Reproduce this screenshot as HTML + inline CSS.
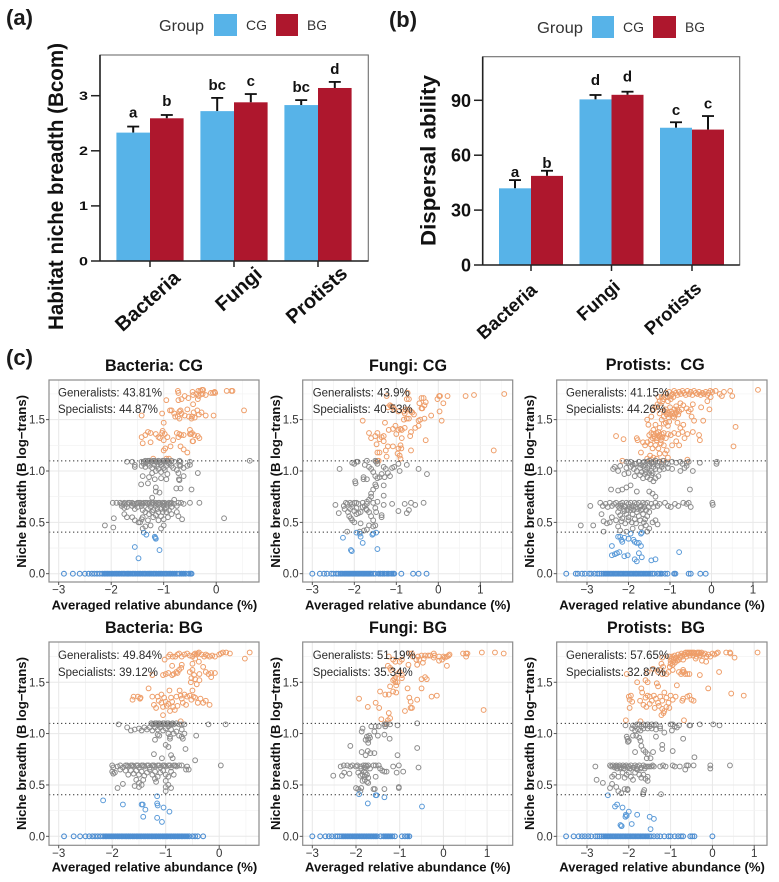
<!DOCTYPE html>
<html lang="en">
<head>
<meta charset="utf-8">
<title>Niche breadth and dispersal ability</title>
<style>
html,body{margin:0;padding:0;background:#fff;}
svg{display:block;}
text{font-family:"Liberation Sans",sans-serif;}
.pl{font-size:22px;font-weight:bold;fill:#1a1a1a;}
.lg{font-size:16px;fill:#333;}
.lg2{font-size:14px;fill:#333;}
.ttl{font-size:16.2px;font-weight:bold;fill:#111;}
.note{font-size:11.5px;fill:#2b2b2b;}
.axt{font-size:13px;font-weight:bold;fill:#111;}
</style>
</head>
<body>
<svg id="figure" xmlns="http://www.w3.org/2000/svg" width="779" height="882" viewBox="0 0 779 882">
  <rect x="0" y="0" width="779" height="882" fill="#fff"/>

  <text class="pl" x="6" y="25" textLength="27" lengthAdjust="spacingAndGlyphs">(a)</text>
  <text class="pl" x="389" y="27" textLength="28" lengthAdjust="spacingAndGlyphs">(b)</text>
  <text class="pl" x="6" y="365" textLength="27" lengthAdjust="spacingAndGlyphs">(c)</text>

  <g>
    <text class="lg" x="159" y="31" textLength="45" lengthAdjust="spacingAndGlyphs">Group</text>
    <rect x="214" y="14" width="23" height="22" fill="#57b3e8"/>
    <text class="lg2" x="246" y="30" textLength="21" lengthAdjust="spacingAndGlyphs">CG</text>
    <rect x="276" y="14" width="22" height="22" fill="#ae172d"/>
    <text class="lg2" x="307" y="30" textLength="20" lengthAdjust="spacingAndGlyphs">BG</text>
  </g>
  <g>
    <text class="lg" x="537" y="33" textLength="46" lengthAdjust="spacingAndGlyphs">Group</text>
    <rect x="592" y="16" width="22" height="22" fill="#57b3e8"/>
    <text class="lg2" x="623" y="32" textLength="21" lengthAdjust="spacingAndGlyphs">CG</text>
    <rect x="653" y="16" width="23" height="22" fill="#ae172d"/>
    <text class="lg2" x="685" y="32" textLength="20" lengthAdjust="spacingAndGlyphs">BG</text>
  </g>

  <text transform="translate(63,330) rotate(-90)" font-size="21" font-weight="bold" fill="#111" textLength="287" lengthAdjust="spacingAndGlyphs">Habitat niche breadth (Bcom)</text>
  <text transform="translate(435.5,246) rotate(-90)" font-size="21" font-weight="bold" fill="#111" textLength="171" lengthAdjust="spacingAndGlyphs">Dispersal ability</text>
  <g id="chart-a"></g>
  <g id="chart-b"></g>

  <g id="panel-0"></g>
  <g id="panel-1"></g>
  <g id="panel-2"></g>
  <g id="panel-3"></g>
  <g id="panel-4"></g>
  <g id="panel-5"></g>

  <text class="ttl" x="105" y="371" textLength="98" lengthAdjust="spacingAndGlyphs">Bacteria: CG</text>
  <text class="ttl" x="369" y="371" textLength="78" lengthAdjust="spacingAndGlyphs">Fungi: CG</text>
  <text class="ttl" x="605.7" y="370" textLength="99" lengthAdjust="spacingAndGlyphs" xml:space="preserve">Protists:  CG</text>
  <text class="ttl" x="105" y="633" textLength="98" lengthAdjust="spacingAndGlyphs">Bacteria: BG</text>
  <text class="ttl" x="369" y="633" textLength="78" lengthAdjust="spacingAndGlyphs">Fungi: BG</text>
  <text class="ttl" x="607" y="633" textLength="98" lengthAdjust="spacingAndGlyphs" xml:space="preserve">Protists:  BG</text>

  <text class="axt" x="51.7" y="609.3" textLength="205.6" lengthAdjust="spacingAndGlyphs">Averaged relative abundance (%)</text>
  <text class="axt" x="305" y="609.3" textLength="205.6" lengthAdjust="spacingAndGlyphs">Averaged relative abundance (%)</text>
  <text class="axt" x="559.3" y="609.3" textLength="205.6" lengthAdjust="spacingAndGlyphs">Averaged relative abundance (%)</text>
  <text class="axt" x="51.7" y="871.3" textLength="205.6" lengthAdjust="spacingAndGlyphs">Averaged relative abundance (%)</text>
  <text class="axt" x="305" y="871.3" textLength="205.6" lengthAdjust="spacingAndGlyphs">Averaged relative abundance (%)</text>
  <text class="axt" x="559.3" y="871.3" textLength="205.6" lengthAdjust="spacingAndGlyphs">Averaged relative abundance (%)</text>

  <text class="axt" transform="translate(26,567.7) rotate(-90)" textLength="172.7" lengthAdjust="spacingAndGlyphs">Niche breadth (B log−trans)</text>
  <text class="axt" transform="translate(280,567.7) rotate(-90)" textLength="172.7" lengthAdjust="spacingAndGlyphs">Niche breadth (B log−trans)</text>
  <text class="axt" transform="translate(534,567.7) rotate(-90)" textLength="172.7" lengthAdjust="spacingAndGlyphs">Niche breadth (B log−trans)</text>
  <text class="axt" transform="translate(26,830) rotate(-90)" textLength="173" lengthAdjust="spacingAndGlyphs">Niche breadth (B log−trans)</text>
  <text class="axt" transform="translate(280,830) rotate(-90)" textLength="173" lengthAdjust="spacingAndGlyphs">Niche breadth (B log−trans)</text>
  <text class="axt" transform="translate(534,830) rotate(-90)" textLength="173" lengthAdjust="spacingAndGlyphs">Niche breadth (B log−trans)</text>

  <g id="annotations">
  <text class="note" x="58" y="396.7" textLength="104" lengthAdjust="spacingAndGlyphs">Generalists: 43.81%</text>
  <text class="note" x="58" y="413" textLength="100" lengthAdjust="spacingAndGlyphs">Specialists: 44.87%</text>
  <text class="note" x="312.7" y="396.7" textLength="97" lengthAdjust="spacingAndGlyphs">Generalists: 43.9%</text>
  <text class="note" x="312.7" y="413" textLength="100" lengthAdjust="spacingAndGlyphs">Specialists: 40.53%</text>
  <text class="note" x="566" y="396.7" textLength="103" lengthAdjust="spacingAndGlyphs">Generalists: 41.15%</text>
  <text class="note" x="566" y="413" textLength="100" lengthAdjust="spacingAndGlyphs">Specialists: 44.26%</text>
  <text class="note" x="58" y="659" textLength="104" lengthAdjust="spacingAndGlyphs">Generalists: 49.84%</text>
  <text class="note" x="58" y="676" textLength="100" lengthAdjust="spacingAndGlyphs">Specialists: 39.12%</text>
  <text class="note" x="312.7" y="659" textLength="103" lengthAdjust="spacingAndGlyphs">Generalists: 51.19%</text>
  <text class="note" x="312.7" y="676" textLength="100" lengthAdjust="spacingAndGlyphs">Specialists: 35.34%</text>
  <text class="note" x="566" y="659" textLength="103" lengthAdjust="spacingAndGlyphs">Generalists: 57.65%</text>
  <text class="note" x="566" y="676" textLength="100" lengthAdjust="spacingAndGlyphs">Specialists: 32.87%</text>
  </g>
</svg>

<script>
/* ---------- bar chart data ---------- */
const barCategories = ["Bacteria", "Fungi", "Protists"];
const nicheCG = [2.33, 2.72, 2.83];
const nicheBG = [2.59, 2.88, 3.14];
const nicheCGErr = [0.11, 0.24, 0.09];
const nicheBGErr = [0.06, 0.15, 0.11];
const nicheCGLetters = ["a", "bc", "bc"];
const nicheBGLetters = ["b", "c", "d"];
const nicheTicks = [0, 1, 2, 3];
const dispersalCG = [41.9, 90.5, 75];
const dispersalBG = [48.7, 93, 74];
const dispersalCGErr = [4.5, 2.4, 3];
const dispersalBGErr = [2.8, 1.7, 7.4];
const dispersalCGLetters = ["a", "d", "c"];
const dispersalBGLetters = ["b", "d", "c"];
const dispersalTicks = [0, 30, 60, 90];

/* ---------- scatter data ---------- */
const yTickValues = [0, 0.5, 1, 1.5];
const thresholdValues = [0.405, 1.099];
const xTicksBacteria = [-3, -2, -1, 0];
const xTicksWide = [-3, -2, -1, 0, 1];

const bacteriaCgGeneralists = [[-0.73,1.78],[-0.72,1.76],[-0.45,1.77],[-0.44,1.74],[-0.38,1.75],[-0.34,1.78],[-0.3,1.78],[-0.27,1.79],[-0.25,1.79],[-0.33,1.73],[-0.29,1.75],[-0.26,1.75],[-0.2,1.74],[-0.1,1.76],[-0.06,1.76],[-0.03,1.77],[-0.02,1.76],[0.2,1.78],[0.29,1.78],[0.31,1.78],[-0.6,1.73],[-0.66,1.7],[-0.72,1.69],[-0.95,1.69],[-0.53,1.71],[-0.35,1.7],[-0.44,1.65],[-1.42,1.54],[-1.03,1.56],[-0.88,1.59],[-0.85,1.59],[-0.8,1.56],[-0.78,1.53],[-0.7,1.58],[-0.68,1.59],[-0.66,1.56],[-0.73,1.53],[-0.7,1.51],[-0.6,1.54],[-0.55,1.6],[-0.52,1.53],[-0.46,1.53],[-0.43,1.57],[-0.41,1.52],[-0.36,1.59],[-0.33,1.55],[-0.28,1.57],[-0.2,1.54],[-0.05,1.54],[0.53,1.59],[-1,1.47],[-0.47,1.51],[-1.42,1.33],[-1.4,1.27],[-1.35,1.35],[-1.3,1.38],[-1.25,1.37],[-1.25,1.28],[-1.15,1.36],[-1.1,1.33],[-1.07,1.32],[-1.03,1.37],[-1.02,1.39],[-0.98,1.36],[-1,1.3],[-0.93,1.33],[-0.97,1.22],[-0.87,1.24],[-0.82,1.3],[-0.75,1.37],[-0.7,1.36],[-0.72,1.33],[-0.67,1.35],[-0.62,1.35],[-0.68,1.24],[-0.62,1.21],[-0.55,1.18],[-0.5,1.4],[-0.5,1.36],[-0.48,1.36],[-0.46,1.37],[-0.45,1.29],[-0.44,1.29],[-0.42,1.35],[-0.35,1.34],[-0.32,1.32],[-0.9,1.12],[-1.2,1.12],[-0.95,1.12],[-1,1.2]];
const bacteriaCgNeutrals = [[-1.7,1.09],[-1.6,1.09],[-1.42,1.09],[-1.38,1.09],[-1.35,1.1],[-1.3,1.1],[-1.25,1.09],[-1.2,1.1],[-1.15,1.09],[-1.1,1.1],[-1.05,1.09],[-1,1.1],[-0.95,1.1],[-0.9,1.09],[-0.85,1.1],[-0.8,1.09],[-0.7,1.1],[-0.68,1.09],[-0.5,1.09],[0.64,1.1],[-1.55,1.06],[-1.55,1.04],[-1.42,1.05],[-1.38,1.07],[-1.35,1.04],[-1.3,1.07],[-1.27,1.05],[-1.22,1.03],[-1.18,1.06],[-1.12,1.05],[-1.1,1.02],[-1.05,1.06],[-1,1.03],[-0.95,1.05],[-0.9,1.07],[-0.85,1.05],[-0.82,1.03],[-0.75,1.01],[-0.7,1.06],[-0.68,1.05],[-0.62,1.03],[-0.55,1.05],[-0.5,1.06],[-0.72,0.98],[-1.22,0.98],[-1.15,1],[-1.05,0.99],[-0.98,1.01],[-0.93,0.97],[-0.7,0.91],[-0.71,0.92],[-1.4,0.95],[-1.28,0.94],[-1.17,0.92],[-1.05,0.93],[-0.95,0.92],[-0.62,0.95],[-0.35,0.98],[-1.43,0.87],[-1.3,0.88],[-1.15,0.84],[-1.15,0.8],[-1.08,0.79],[-0.76,0.83],[-0.68,0.83],[-0.47,0.82],[-1.22,0.74],[-1.97,0.69],[-1.9,0.69],[-1.83,0.69],[-1.8,0.68],[-1.75,0.69],[-1.7,0.68],[-1.65,0.69],[-1.6,0.69],[-1.55,0.68],[-1.5,0.69],[-1.47,0.69],[-1.42,0.68],[-1.38,0.69],[-1.35,0.69],[-1.3,0.68],[-1.27,0.69],[-1.22,0.69],[-1.18,0.68],[-1.15,0.69],[-1.1,0.69],[-1.06,0.68],[-1.02,0.69],[-0.98,0.69],[-0.95,0.68],[-0.9,0.69],[-0.85,0.69],[-0.8,0.68],[-0.72,0.69],[-0.67,0.69],[-0.62,0.68],[-0.5,0.69],[-0.32,0.69],[-1.8,0.66],[-1.75,0.64],[-1.7,0.65],[-1.6,0.66],[-1.55,0.63],[-1.5,0.65],[-1.42,0.66],[-1.4,0.62],[-1.35,0.6],[-1.3,0.63],[-1.25,0.65],[-1.2,0.62],[-1.15,0.66],[-1.1,0.6],[-1.05,0.63],[-1,0.66],[-0.95,0.64],[-0.9,0.62],[-0.85,0.65],[-0.8,0.72],[-0.75,0.66],[-0.85,0.58],[-0.75,0.6],[-0.72,0.56],[-0.92,0.55],[-1,0.53],[-1.05,0.56],[-1.1,0.52],[-1.15,0.57],[-1.2,0.55],[-1.3,0.52],[-1.4,0.55],[-1.42,0.53],[-1.45,0.5],[-1.6,0.55],[-1.75,0.58],[-1.95,0.54],[-1.96,0.45],[-2.12,0.47],[-1.4,0.44],[-1.35,0.46],[-1.48,0.5],[-1.55,0.52],[-1.05,0.44],[-1,0.47],[-1.25,0.47],[-0.65,0.53],[0.15,0.54],[-1.7,0.55],[-0.95,0.6],[-1.32,1.09],[-1.27,1.1],[-1.22,1.09],[-1.17,1.1],[-1.12,1.09],[-1.07,1.08],[-1.02,1.1],[-0.97,1.09],[-0.92,1.1],[-1.76,0.68],[-1.68,0.69],[-1.58,0.68],[-1.52,0.68],[-1.44,0.69],[-1.4,0.68],[-1.32,0.69],[-1.24,0.68],[-1.2,0.69],[-1.12,0.68],[-1.08,0.69],[-1,0.68],[-0.92,0.68],[-0.87,0.68],[-1.28,0.58],[-1.22,0.6],[-1.12,0.63],[-1.02,0.6],[-0.98,0.63]];
const bacteriaCgSpecialists = [[-1.55,0.26],[-1.48,0.15],[-1.08,0.23],[-1.38,0.4],[-1.33,0.38],[-1.17,0.36],[-1.15,0.34],[-1.16,0.35]];
const bacteriaCgZeros = [-2.9,-2.73,-2.6,-2.5,-2.43,-2.37,-2.32,-2.27,-2.22,-2.17,-2.13,-2.1,-2.07,-2.04,-2,-1.97,-1.93,-1.9,-1.87,-1.84,-1.8,-1.77,-1.74,-1.7,-1.67,-1.64,-1.6,-1.57,-1.54,-1.5,-1.47,-1.44,-1.4,-1.37,-1.34,-1.3,-1.27,-1.24,-1.2,-1.17,-1.14,-1.1,-1.07,-1.04,-1,-0.97,-0.94,-0.9,-0.87,-0.83,-0.79,-0.75,-0.7,-0.66,-0.62,-0.58,-0.52,-0.49,-0.47];

const fungiCgGeneralists = [[-1.23,1.73],[-0.73,1.76],[-0.75,1.7],[-0.7,1.7],[-0.4,1.71],[-0.35,1.71],[-0.45,1.66],[-0.02,1.7],[0.02,1.73],[0.04,1.73],[0.22,1.73],[0.65,1.73],[0.85,1.74],[1.57,1.75],[0.12,1.66],[-0.3,1.67],[-0.33,1.64],[-0.38,1.61],[-0.4,1.61],[-1.2,1.62],[-1.15,1.64],[-1.12,1.63],[-1.08,1.62],[-1.05,1.6],[-0.95,1.58],[-0.82,1.58],[-0.8,1.56],[-0.78,1.6],[-0.7,1.6],[-0.65,1.58],[-0.62,1.57],[-0.58,1.55],[-1.8,1.49],[-1.27,1.47],[-0.82,1.5],[-0.75,1.51],[-0.7,1.51],[-0.47,1.49],[-0.43,1.5],[-0.33,1.51],[-0.17,1.54],[0.03,1.58],[0.08,1.49],[-0.47,1.44],[-1.02,1.44],[-1.08,1.41],[-1.18,1.4],[-0.95,1.4],[-0.9,1.41],[-0.8,1.42],[-0.87,1.4],[-1,1.36],[-0.87,1.32],[-0.65,1.38],[-0.67,1.34],[-0.55,1.42],[-1.65,1.37],[-1.6,1.32],[-1.5,1.34],[-1.45,1.37],[-1.4,1.31],[-1.35,1.33],[-1.3,1.34],[-1.3,1.29],[-1.47,1.26],[-0.3,1.3],[-1.45,1.18],[-1.4,1.18],[-1.25,1.2],[-1.2,1.24],[-1.08,1.24],[-0.95,1.22],[-0.88,1.22],[-0.9,1.25],[-0.65,1.2],[-0.97,1.17],[-0.92,1.15],[-1.23,1.14],[-0.9,1.12],[-1.45,1.1],[-1.42,1.1],[1.32,1.2]];
const fungiCgNeutrals = [[-1.7,1.1],[-2.05,1.08],[-2,1.07],[-1.95,1.09],[-1.92,1.09],[-1.75,1.06],[-1.65,1.04],[-1.6,1.02],[-1.55,0.99],[-1.5,1.1],[-1.48,1.09],[-1.45,1.07],[-1.3,1.04],[-1.25,1.02],[-1.2,0.98],[-1.35,0.97],[-1.4,0.94],[-1.45,0.93],[-1.5,0.95],[-1.1,1.03],[-1.05,1.04],[-0.95,1.07],[-0.75,1.06],[-0.92,1],[-0.47,1.02],[-0.27,0.97],[-2.35,1.02],[-1.98,0.9],[-1.97,0.88],[-1.78,0.92],[-1.78,0.94],[-1.7,0.92],[-1.28,0.94],[-1.15,0.95],[-1.5,0.87],[-1.48,0.85],[-1.3,0.86],[-1.55,0.82],[-1.6,0.78],[-1.6,0.75],[-1.65,0.72],[-1.7,0.7],[-1.55,0.69],[-1.45,0.7],[-1.3,0.76],[-1.7,0.68],[-2.45,0.67],[-2.2,0.69],[-2.17,0.68],[-2.1,0.69],[-2.05,0.68],[-2,0.69],[-1.95,0.69],[-1.9,0.68],[-1.8,0.69],[-1.75,0.66],[-2.25,0.66],[-2.23,0.63],[-2.1,0.63],[-2.05,0.65],[-2,0.61],[-1.95,0.64],[-1.85,0.6],[-1.8,0.65],[-1.72,0.63],[-1.7,0.62],[-1.65,0.6],[-1.5,0.64],[-1.48,0.6],[-1.3,0.67],[-1.35,0.57],[-1.35,0.55],[-1.1,0.68],[-0.8,0.68],[-0.65,0.69],[-0.55,0.67],[-0.35,0.69],[-0.95,0.61],[-0.7,0.62],[-0.75,0.59],[-2.37,0.59],[-2.15,0.6],[-2.12,0.56],[-2.08,0.54],[-2.05,0.52],[-1.95,0.58],[-1.9,0.59],[-2,0.5],[-1.85,0.49],[-1.6,0.56],[-1.55,0.52],[-1.65,0.47],[-1.55,0.46],[-1.5,0.47],[-1.7,0.43],[-1.77,0.42],[-2.17,0.41],[-1.87,0.41]];
const fungiCgSpecialists = [[-2.27,0.35],[-1.95,0.4],[-1.87,0.39],[-1.85,0.36],[-1.8,0.3],[-1.57,0.38],[-1.48,0.4],[-2.08,0.23],[-2.06,0.22],[-1.45,0.24],[-1.55,0.39]];
const fungiCgZeros = [-3,-2.82,-2.72,-2.65,-2.55,-2.5,-2.43,-2.38,-2.33,-2.3,-2.27,-2.23,-2.2,-2.17,-2.14,-2.11,-2.08,-2.05,-2.02,-1.99,-1.96,-1.93,-1.9,-1.87,-1.84,-1.81,-1.78,-1.75,-1.72,-1.69,-1.66,-1.63,-1.6,-1.55,-1.5,-1.42,-1.38,-1.32,-1.28,-1.22,-1.18,-1.12,-1.08,-1.05,-0.88,-0.6,-0.47,-0.28];

const protistsCgGeneralists = [[1.12,1.79],[0.45,1.78],[0.3,1.77],[0.5,1.73],[0.2,1.75],[0.25,1.73],[0.1,1.78],[0.02,1.77],[-0.03,1.78],[-0.07,1.76],[-0.1,1.74],[-0.14,1.77],[-0.18,1.75],[-0.22,1.76],[-0.26,1.74],[-0.3,1.77],[-0.34,1.75],[-0.38,1.76],[-0.42,1.78],[-0.46,1.74],[-0.5,1.77],[-0.54,1.75],[-0.58,1.78],[-0.62,1.74],[-0.66,1.76],[-0.7,1.78],[-0.74,1.75],[-0.78,1.77],[-0.82,1.74],[-0.86,1.76],[-0.9,1.78],[-0.94,1.75],[-0.98,1.73],[-1.02,1.77],[-1.06,1.72],[-1.1,1.76],[-1.15,1.7],[-1.2,1.72],[-1.25,1.68],[-1.3,1.65],[-0.02,1.72],[-0.1,1.68],[-0.25,1.62],[-0.05,1.6],[-0.45,1.65],[-0.5,1.6],[-0.55,1.58],[-0.6,1.61],[-0.68,1.64],[-0.72,1.6],[-0.78,1.58],[-0.8,1.55],[-0.82,1.6],[-0.85,1.57],[-0.88,1.55],[-0.9,1.6],[-0.93,1.53],[-0.97,1.58],[-1,1.55],[-1.03,1.52],[-1.08,1.55],[-1.12,1.58],[-1.15,1.53],[-1.2,1.62],[-1.4,1.6],[-1.45,1.53],[-1.55,1.5],[-1.52,1.45],[-0.48,1.53],[-0.42,1.49],[-0.2,1.49],[-0.68,1.45],[-0.75,1.42],[-0.82,1.47],[-1.05,1.44],[-1.1,1.47],[-1.25,1.42],[-1.35,1.45],[-1.4,1.4],[-1.45,1.37],[-1.5,1.35],[-1.42,1.32],[-1.38,1.34],[-1.33,1.37],[-1.3,1.32],[-1.26,1.35],[-1.22,1.3],[-1.18,1.33],[-1.15,1.37],[-1.1,1.32],[-1.05,1.36],[-0.98,1.35],[-0.9,1.37],[-0.8,1.36],[-0.7,1.38],[-0.58,1.36],[-0.45,1.38],[-0.3,1.35],[0.58,1.43],[0.53,1.24],[-0.28,1.3],[-0.65,1.32],[-2.3,1.34],[-2.12,1.31],[-1.8,1.32],[-1.78,1.3],[-1.65,1.28],[-1.6,1.25],[-1.55,1.28],[-1.47,1.26],[-1.42,1.22],[-1.35,1.25],[-1.28,1.22],[-1.22,1.27],[-1.15,1.25],[-1.08,1.2],[-0.95,1.25],[-0.85,1.29],[-0.78,1.25],[-1.55,1.12],[-1.45,1.11],[-1.4,1.13],[-1.32,1.12],[-1.25,1.17],[-1.18,1.1],[-1.05,1.13],[-0.58,1.11],[-2.15,1.1],[-1.7,1.18],[-1.48,1.15],[-1.12,1.17],[-1.4,1.36],[-1.36,1.32],[-1.32,1.3],[-1.28,1.38],[-1.24,1.33],[-1.2,1.36],[-1.46,1.3],[-1.1,1.6],[-1.05,1.57],[-1,1.62],[-0.94,1.56],[-0.9,1.52],[-0.85,1.63],[-0.75,1.66],[-1.18,1.68],[-1.12,1.72],[-1.05,1.68],[-0.98,1.7],[-0.92,1.72],[-1.28,1.72],[-1.35,1.62],[-1.25,1.56],[-1.2,1.5],[-1.15,1.46],[-1.02,1.48]];
const protistsCgNeutrals = [[-2.05,1.09],[-2,1.08],[-1.95,1.09],[-1.85,1.07],[-1.75,1.09],[-1.65,1.08],[-1.55,1.09],[-1.45,1.08],[-1.35,1.1],[-1.3,1.08],[-1.25,1.09],[-1.15,1.1],[-1.1,1.08],[-1.05,1.07],[-0.95,1.09],[-0.85,1.08],[-0.75,1.09],[-0.7,1.07],[-0.6,1.08],[-0.55,1.09],[-0.28,1.08],[0.13,1.09],[0.12,1.07],[-2.37,1.02],[-2.33,1.04],[-2.25,1],[-2.2,1.05],[-2.05,1.03],[-1.95,1.04],[-1.87,1.02],[-1.8,1],[-1.72,1.03],[-1.65,1.05],[-1.6,1.01],[-1.55,1.03],[-1.5,1.05],[-1.45,1],[-1.4,1.04],[-1.35,1.02],[-1.3,1.05],[-1.25,1.01],[-1.2,1.04],[-1.15,1.02],[-1.05,1.03],[-0.95,1.02],[-0.75,1],[-0.65,1.03],[-0.6,1.05],[-0.45,1],[-2.1,0.97],[-2,0.98],[-1.85,0.95],[-1.72,0.96],[-1.65,0.93],[-1.6,0.97],[-1.55,0.94],[-1.45,0.96],[-1.4,0.9],[-1.35,0.93],[-1.28,0.95],[-2.42,0.82],[-2.25,0.81],[-2.15,0.82],[-2.05,0.84],[-1.95,0.86],[-1.8,0.8],[-1.5,0.8],[-1.42,0.78],[-1.35,0.75],[-0.52,0.82],[-2.92,0.66],[-2.68,0.69],[-2.62,0.66],[-2.55,0.68],[-2.5,0.65],[-2.45,0.69],[-2.4,0.66],[-2.35,0.68],[-2.3,0.69],[-2.25,0.66],[-2.2,0.68],[-2.15,0.69],[-2.1,0.66],[-2.05,0.69],[-2,0.68],[-1.95,0.69],[-1.9,0.66],[-1.85,0.69],[-1.8,0.68],[-1.75,0.69],[-1.7,0.66],[-1.65,0.69],[-1.6,0.68],[-1.55,0.69],[-1.45,0.68],[-1.4,0.65],[-1.35,0.69],[-1.3,0.66],[-1.25,0.68],[-1.12,0.69],[-1.05,0.66],[-0.98,0.65],[-0.88,0.68],[-0.8,0.66],[-0.68,0.69],[-0.6,0.68],[-0.55,0.69],[-0.5,0.65],[0.02,0.69],[0.03,0.67],[-2.65,0.58],[-2.6,0.51],[-2.52,0.49],[-2.45,0.5],[-2.4,0.55],[-2.3,0.52],[-2.25,0.6],[-2.2,0.57],[-2.15,0.54],[-2.1,0.61],[-2.05,0.58],[-2,0.55],[-1.95,0.62],[-1.9,0.58],[-1.85,0.53],[-1.8,0.6],[-1.75,0.56],[-1.7,0.62],[-1.65,0.58],[-1.6,0.53],[-1.55,0.56],[-1.5,0.6],[-1.42,0.5],[-1.35,0.52],[-1.3,0.48],[-3.15,0.47],[-2.85,0.47],[-2.6,0.41],[-2.25,0.46],[-2.2,0.42],[-2.05,0.41],[-1.9,0.44],[-1.7,0.45],[-1.55,0.41],[-1.5,0.44],[-2.22,0.64],[-2.18,0.66],[-2.12,0.63],[-2.08,0.65],[-2.03,0.62],[-1.98,0.65],[-1.93,0.64],[-1.88,0.62],[-1.83,0.65],[-1.78,0.63],[-1.72,0.65],[-1.67,0.63],[-1.62,0.65],[-1.57,0.62],[-1.52,0.65],[-2.17,0.51],[-2.08,0.49],[-2,0.52],[-1.92,0.5],[-1.82,0.49],[-1.72,0.52],[-1.63,0.5],[-1.58,0.47],[-1.9,1.06],[-1.82,1.07],[-1.7,1.06],[-1.6,1.06],[-1.5,1.07],[-1.4,1.07],[-1.2,1.07],[-1.62,1.09],[-1.5,1.1],[-1.4,1.09],[-1.58,0.99],[-1.5,0.98],[-1.48,0.92],[-1.68,0.99],[-1.42,0.98]];
const protistsCgSpecialists = [[-2.25,0.36],[-2.2,0.36],[-2.17,0.33],[-2.15,0.31],[-2.1,0.35],[-2,0.34],[-1.95,0.39],[-1.88,0.33],[-1.85,0.31],[-1.8,0.3],[-1.75,0.3],[-1.7,0.27],[-1.7,0.39],[-1.68,0.4],[-2.4,0.27],[-2.4,0.18],[-2.33,0.19],[-2.28,0.2],[-2.22,0.21],[-2.1,0.17],[-2.02,0.18],[-1.85,0.14],[-1.8,0.12],[-1.75,0.2],[-1.68,0.16],[-1.45,0.13],[-1.35,0.14],[-0.78,0.21]];
const protistsCgZeros = [-3.5,-3.27,-3.22,-3.12,-3.05,-2.95,-2.9,-2.82,-2.75,-2.7,-2.65,-2.6,-2.56,-2.52,-2.48,-2.44,-2.4,-2.36,-2.32,-2.28,-2.24,-2.2,-2.16,-2.12,-2.08,-2.04,-2,-1.96,-1.92,-1.88,-1.84,-1.8,-1.76,-1.72,-1.68,-1.64,-1.6,-1.56,-1.52,-1.48,-1.43,-1.38,-1.3,-1.24,-1.2,-1.12,-1.06,-0.9,-0.87,-0.55,-0.5,-0.27,-0.14];

const bacteriaBgGeneralists = [[0.57,1.79],[0.48,1.73],[0.2,1.78],[0.13,1.79],[0.07,1.79],[0.03,1.78],[0,1.77],[-0.08,1.75],[-0.13,1.76],[-0.18,1.75],[-0.22,1.76],[-0.25,1.77],[-0.28,1.75],[-0.33,1.77],[-0.38,1.79],[-0.4,1.78],[-0.42,1.77],[-0.45,1.78],[-0.47,1.77],[-0.5,1.75],[-0.55,1.76],[-0.6,1.78],[-0.65,1.77],[-0.7,1.75],[-0.75,1.78],[-0.78,1.77],[-0.82,1.75],[-0.87,1.75],[-0.92,1.77],[-0.95,1.75],[-1.02,1.72],[-0.45,1.73],[-0.38,1.7],[-0.5,1.68],[-0.88,1.66],[-0.7,1.67],[-0.71,1.64],[-0.75,1.62],[-0.8,1.6],[-0.85,1.58],[-1.25,1.57],[-1.05,1.57],[-1,1.58],[-0.95,1.59],[-0.88,1.57],[-0.78,1.59],[-0.55,1.6],[-0.5,1.62],[-0.47,1.57],[-0.52,1.54],[-0.53,1.5],[-0.45,1.53],[-0.37,1.58],[-0.42,1.48],[-0.37,1.52],[-0.3,1.65],[-0.25,1.6],[-0.2,1.58],[-0.15,1.59],[-0.08,1.59],[-0.15,1.55],[-1.62,1.33],[-1.6,1.36],[-1.52,1.36],[-1.48,1.34],[-1.47,1.35],[-1.32,1.44],[-1.25,1.36],[-1.22,1.28],[-1.18,1.25],[-1.15,1.36],[-1.13,1.32],[-1.08,1.38],[-1.03,1.35],[-1,1.31],[-0.98,1.27],[-0.95,1.29],[-0.93,1.42],[-0.9,1.35],[-0.88,1.31],[-0.86,1.26],[-0.83,1.23],[-0.8,1.36],[-0.78,1.27],[-0.74,1.42],[-0.72,1.37],[-0.7,1.34],[-0.68,1.3],[-0.65,1.38],[-0.62,1.28],[-0.6,1.36],[-0.55,1.37],[-0.52,1.33],[-0.5,1.42],[-0.48,1.36],[-0.45,1.35],[-0.4,1.3],[-0.35,1.34],[-0.3,1.3],[-0.25,1.32],[-0.18,1.28],[-1.05,1.18],[-0.92,1.22],[-1.05,1.26],[-1.08,1.3],[-0.72,1.12]];
const bacteriaBgNeutrals = [[-1.88,1.09],[-1.25,1.09],[-1.2,1.1],[-1.15,1.09],[-1.12,1.1],[-1.08,1.09],[-1.03,1.1],[-1,1.09],[-0.95,1.1],[-0.9,1.09],[-0.85,1.09],[-0.8,1.1],[-0.75,1.09],[-0.7,1.09],[-0.65,1.09],[-0.2,1.09],[0.12,1.09],[-1.72,1.06],[-1.65,1.03],[-1.58,1.04],[-1.5,1.05],[-1.45,1.03],[-1.4,1.06],[-1.35,1.04],[-1.3,1.06],[-1.25,1.03],[-1.2,1.06],[-1.15,1.04],[-1.1,1.06],[-1.05,1.03],[-1,1.05],[-0.95,1.07],[-0.9,1.04],[-0.85,1],[-0.8,1.02],[-0.75,0.98],[-0.7,1.04],[-0.65,1],[-1.15,0.99],[-1.12,0.98],[-0.92,0.97],[-0.95,1],[-0.92,0.95],[-0.7,0.97],[-0.68,0.95],[-0.43,0.98],[-1.2,0.94],[-1,0.89],[-0.95,0.87],[-0.63,0.85],[-1.22,0.8],[-0.9,0.79],[-0.87,0.76],[-1.07,0.76],[-0.45,0.74],[-2,0.69],[-1.98,0.67],[-1.9,0.68],[-1.85,0.69],[-1.8,0.67],[-1.75,0.69],[-1.7,0.68],[-1.65,0.69],[-1.6,0.68],[-1.55,0.69],[-1.5,0.67],[-1.45,0.69],[-1.4,0.68],[-1.35,0.69],[-1.3,0.67],[-1.25,0.69],[-1.2,0.68],[-1.15,0.69],[-1.1,0.67],[-1.05,0.69],[-1,0.68],[-0.95,0.69],[-0.9,0.67],[-0.85,0.69],[-0.8,0.68],[-0.75,0.69],[-0.7,0.69],[-0.62,0.65],[-0.6,0.68],[-0.57,0.65],[0.03,0.69],[-2,0.63],[-1.95,0.62],[-1.85,0.65],[-1.75,0.64],[-1.7,0.6],[-1.65,0.64],[-1.6,0.61],[-1.55,0.64],[-1.5,0.6],[-1.45,0.63],[-1.4,0.59],[-1.35,0.62],[-1.3,0.65],[-1.25,0.6],[-1.2,0.63],[-1.15,0.58],[-1.1,0.62],[-1.05,0.64],[-1,0.6],[-0.95,0.58],[-0.9,0.63],[-0.85,0.6],[-1.98,0.61],[-1.55,0.55],[-1.5,0.52],[-1.45,0.5],[-1.42,0.55],[-1.2,0.56],[-1.18,0.53],[-1,0.54],[-0.95,0.5],[-1,0.48],[-0.9,0.47],[-1.9,0.47],[-1.8,0.51],[-1.58,0.49],[-1.5,0.48],[-1,0.44],[-1.27,1.1],[-1.22,1.09],[-1.17,1.1],[-1.1,1.09],[-1.05,1.1],[-0.97,1.1],[-0.92,1.09],[-0.87,1.1],[-1.72,0.69],[-1.62,0.69],[-1.52,0.69],[-1.42,0.69],[-1.32,0.69],[-1.22,0.69],[-1.12,0.69],[-1.02,0.69],[-0.92,0.69],[-0.82,0.69]];
const bacteriaBgSpecialists = [[-2.17,0.35],[-1.8,0.31],[-1.45,0.31],[-1.43,0.31],[-1.38,0.26],[-1.42,0.19],[-1.16,0.39],[-1.16,0.32],[-1.15,0.3],[-1.04,0.28],[-0.93,0.24],[-1.16,0.18],[-1.07,0.14]];
const bacteriaBgZeros = [-2.9,-2.72,-2.6,-2.5,-2.43,-2.37,-2.32,-2.27,-2.22,-2.17,-2.13,-2.1,-2.06,-2.02,-1.98,-1.94,-1.9,-1.87,-1.83,-1.8,-1.76,-1.73,-1.69,-1.66,-1.62,-1.59,-1.55,-1.52,-1.48,-1.45,-1.41,-1.38,-1.34,-1.31,-1.27,-1.24,-1.2,-1.17,-1.13,-1.1,-1.06,-1.03,-0.99,-0.96,-0.92,-0.89,-0.85,-0.82,-0.78,-0.75,-0.71,-0.68,-0.64,-0.6,-0.56,-0.5,-0.45,-0.4,-0.3];

const fungiBgGeneralists = [[1.38,1.78],[1.18,1.79],[0.88,1.79],[0.55,1.78],[0.52,1.78],[0.45,1.78],[0.52,1.75],[0.14,1.77],[0.12,1.76],[0.08,1.75],[0.03,1.74],[0,1.75],[-0.03,1.72],[-0.1,1.75],[-0.1,1.71],[-0.2,1.76],[-0.22,1.78],[-0.22,1.74],[-0.3,1.76],[-0.35,1.76],[-0.42,1.76],[-0.45,1.73],[-0.47,1.69],[-0.5,1.76],[-0.55,1.72],[-0.58,1.75],[-0.6,1.67],[-0.62,1.72],[-0.7,1.75],[-0.72,1.78],[-0.78,1.78],[-0.8,1.67],[-0.95,1.72],[-1,1.7],[-1.1,1.7],[-1.15,1.72],[-1.25,1.75],[0.08,1.66],[-1.27,1.66],[-1.22,1.64],[-1.2,1.62],[-1,1.6],[-0.95,1.57],[-1.05,1.58],[-1.1,1.55],[-1.12,1.53],[-1.15,1.52],[-1.1,1.5],[-1.05,1.5],[-0.95,1.54],[-0.5,1.53],[-0.42,1.55],[-0.38,1.53],[-1.08,1.47],[-1.22,1.46],[-1.15,1.41],[-1.08,1.4],[-0.82,1.44],[-0.5,1.44],[-1.45,1.41],[-1.33,1.38],[-1.25,1.38],[-1.93,1.34],[-1.55,1.3],[-1.47,1.25],[-1.73,1.26],[-0.78,1.35],[-0.75,1.31],[-0.6,1.33],[-0.27,1.36],[-0.15,1.37],[-0.88,1.22],[-0.75,1.25],[-0.72,1.25],[-1.25,1.2],[-1.22,1.15],[-1.42,1.14],[-1.3,1.1],[-1.27,1.13],[0.92,1.23]];
const fungiBgNeutrals = [[-1.35,1.09],[-1.33,1.07],[-1.3,1.09],[-1.22,1.09],[-1.05,1.08],[-0.6,1.1],[-1.65,1.07],[-1.55,1.07],[-1.48,1.07],[-1.85,1.05],[-1.87,1.02],[-1.58,1.02],[-1.5,0.98],[-1.35,0.99],[-1.23,0.95],[-1.75,0.97],[-1.7,0.98],[-1.68,0.96],[-1.72,0.94],[-1.78,0.94],[-1.72,0.91],[-2.13,0.88],[-1.87,0.82],[-1.73,0.83],[-1.67,0.81],[-1.78,0.79],[-1.58,0.81],[-1.05,0.79],[-0.6,0.86],[-2.35,0.68],[-2.28,0.69],[-2.2,0.69],[-2.13,0.68],[-2.08,0.69],[-2,0.68],[-1.97,0.69],[-1.9,0.68],[-1.88,0.66],[-1.83,0.69],[-1.8,0.67],[-1.78,0.69],[-1.75,0.68],[-1.72,0.69],[-1.68,0.66],[-1.6,0.69],[-1.55,0.69],[-1.48,0.69],[-1.45,0.66],[-1.4,0.64],[-1.35,0.63],[-1.3,0.63],[-1.15,0.68],[-1.02,0.69],[-0.57,0.67],[-1.07,0.62],[-0.92,0.63],[-2.52,0.59],[-2.32,0.59],[-2.27,0.62],[-2.15,0.61],[-1.95,0.62],[-1.9,0.59],[-1.85,0.6],[-1.82,0.63],[-1.8,0.58],[-1.78,0.62],[-1.75,0.6],[-1.72,0.57],[-1.55,0.58],[-1.85,0.54],[-1.8,0.55],[-1.75,0.53],[-1.72,0.52],[-2,0.47],[-1.95,0.46],[-1.88,0.47],[-1.6,0.46],[-1.57,0.46],[-1.35,0.46],[-1.02,0.48],[-1.02,0.47],[-1.9,0.44]];
const fungiBgSpecialists = [[-1.93,0.41],[-1.55,0.4],[-1.53,0.4],[-1.35,0.38],[-1.73,0.32],[-0.49,0.29]];
const fungiBgZeros = [-3,-2.82,-2.7,-2.62,-2.55,-2.47,-2.42,-2.37,-2.32,-2.28,-2.24,-2.2,-2.16,-2.12,-2.08,-2.04,-2,-1.96,-1.92,-1.88,-1.84,-1.8,-1.76,-1.72,-1.68,-1.64,-1.6,-1.56,-1.52,-1.44,-1.37,-1.33,-1.29,-1.25,-1.21,-1.17,-1.11,-0.95,-0.88,-0.82,-0.78];

const protistsBgGeneralists = [[1.08,1.79],[0.42,1.79],[0.33,1.79],[0.43,1.78],[0.53,1.74],[0.13,1.79],[0.1,1.78],[0.05,1.77],[0,1.78],[-0.05,1.75],[-0.1,1.77],[-0.14,1.75],[-0.18,1.78],[-0.22,1.77],[-0.26,1.79],[-0.3,1.76],[-0.34,1.78],[-0.38,1.75],[-0.42,1.78],[-0.46,1.76],[-0.5,1.78],[-0.54,1.76],[-0.58,1.78],[-0.62,1.75],[-0.66,1.77],[-0.7,1.72],[-0.74,1.78],[-0.78,1.74],[-0.82,1.77],[-0.86,1.73],[-0.9,1.76],[-0.93,1.72],[-0.96,1.75],[-1,1.71],[-1.03,1.75],[-1,1.68],[-0.95,1.67],[-0.9,1.69],[-1.02,1.65],[-1.2,1.74],[-1.22,1.68],[-1.18,1.65],[-1.25,1.62],[-0.15,1.7],[-0.25,1.71],[-0.4,1.73],[-0.7,1.62],[-0.72,1.6],[-0.68,1.6],[-0.65,1.58],[-0.6,1.58],[-0.55,1.58],[-0.75,1.58],[-0.8,1.6],[-0.95,1.62],[-1.05,1.6],[-1.1,1.58],[-1.2,1.58],[-1.3,1.6],[-1.42,1.63],[-1.55,1.6],[-1.6,1.52],[-2.05,1.58],[-1.8,1.5],[-1.55,1.5],[-1.33,1.49],[-1.3,1.46],[-0.3,1.57],[0.16,1.6],[-0.85,1.47],[-0.1,1.44],[0.45,1.39],[0.75,1.37],[-1.7,1.44],[-1.68,1.4],[-1.6,1.35],[-1.55,1.37],[-1.5,1.36],[-1.45,1.32],[-1.4,1.37],[-1.35,1.34],[-1.3,1.3],[-1.25,1.36],[-1.2,1.32],[-1.15,1.4],[-1.1,1.35],[-1.05,1.3],[-1,1.37],[-0.95,1.33],[-0.88,1.36],[-0.72,1.32],[-0.7,1.34],[-0.6,1.36],[-0.55,1.37],[-0.5,1.33],[-0.45,1.32],[-2,1.36],[-1.98,1.33],[-1.95,1.37],[-1.92,1.31],[-1.73,1.32],[-1.65,1.28],[-1.58,1.26],[-1.5,1.29],[-1.38,1.25],[-1.28,1.27],[-1.2,1.24],[-1.17,1.2],[-1.1,1.26],[-1.03,1.25],[-1.15,1.22],[-1.98,1.25],[-2.07,1.13],[-1.72,1.12],[-0.68,1.13],[-1.22,1.18],[-0.98,1.73],[-0.94,1.7],[-0.88,1.74],[-0.84,1.71],[-0.8,1.72],[-0.76,1.76],[-0.72,1.75],[-0.68,1.77],[-0.64,1.79],[-0.6,1.79],[-0.56,1.79],[-0.52,1.79],[-0.48,1.79],[-0.44,1.79],[-0.36,1.79],[-0.32,1.79],[-0.28,1.78]];
const protistsBgNeutrals = [[-2.08,1.08],[-1.9,1.08],[-1.85,1.07],[-1.8,1.09],[-1.75,1.09],[-1.7,1.07],[-1.65,1.09],[-1.6,1.08],[-1.55,1.09],[-1.5,1.07],[-1.45,1.09],[-1.4,1.08],[-1.35,1.09],[-1.25,1.07],[-1,1.09],[-0.95,1.09],[-0.9,1.07],[-0.85,1.06],[-0.8,1.08],[-0.55,1.08],[-0.53,1.08],[-0.3,1.09],[0.02,1.09],[0.17,1.08],[-1.92,1.05],[-1.85,1.03],[-1.78,1.04],[-1.72,1.03],[-1.65,1.05],[-1.55,1.05],[-1.45,1.05],[-1.35,1.04],[-1.25,1.05],[-1.15,1.01],[-0.97,1.03],[-2.05,0.97],[-2.03,0.95],[-2.02,0.92],[-2,0.93],[-1.9,0.98],[-1.82,0.98],[-1.75,0.96],[-1.72,0.93],[-1.35,0.97],[-0.7,0.95],[-1.7,0.88],[-1.65,0.84],[-1.6,0.82],[-1.55,0.8],[-1.85,0.82],[-1.42,0.82],[-1.2,0.89],[-1.2,0.85],[-0.95,0.83],[-1.57,0.76],[-1.48,0.76],[-0.43,0.77],[-2.8,0.68],[-2.45,0.69],[-2.42,0.68],[-2.38,0.69],[-2.34,0.67],[-2.3,0.69],[-2.26,0.68],[-2.22,0.69],[-2.18,0.67],[-2.14,0.69],[-2.1,0.68],[-2.06,0.69],[-2,0.68],[-1.95,0.69],[-1.9,0.67],[-1.85,0.69],[-1.8,0.68],[-1.75,0.69],[-1.7,0.67],[-1.65,0.69],[-1.6,0.68],[-1.47,0.68],[-1.43,0.69],[-1.4,0.68],[-1.25,0.68],[-1.18,0.69],[-1.12,0.68],[-0.95,0.69],[-0.9,0.68],[-0.78,0.68],[-0.65,0.65],[-0.62,0.69],[-0.58,0.69],[-0.45,0.69],[-0.05,0.69],[-0.05,0.66],[0.42,0.69],[-2.77,0.55],[-2.62,0.52],[-2.4,0.58],[-2.35,0.6],[-2.25,0.58],[-2.15,0.62],[-2.1,0.57],[-2.05,0.6],[-2,0.62],[-1.95,0.58],[-1.9,0.55],[-1.85,0.62],[-1.8,0.65],[-1.75,0.6],[-1.7,0.57],[-1.65,0.6],[-1.6,0.56],[-1.55,0.58],[-1.55,0.54],[-2.4,0.51],[-2.45,0.47],[-2.3,0.48],[-2.25,0.44],[-2.1,0.46],[-2.03,0.45],[-2.03,0.46],[-2.18,0.42],[-1.65,0.43],[-1.63,0.45],[-1.66,0.41],[-1.23,0.41],[-2.32,0.68],[-2.28,0.66],[-2.2,0.66],[-2.12,0.66],[-2.03,0.67],[-1.97,0.66],[-1.88,0.67],[-1.82,0.66],[-1.72,0.66],[-1.62,0.66],[-1.56,0.68],[-1.52,0.68]];
const protistsBgSpecialists = [[-2.5,0.4],[-2.28,0.31],[-2.33,0.29],[-2.15,0.28],[-2,0.24],[-2.07,0.21],[-2.05,0.2],[-2.08,0.19],[-1.8,0.21],[-1.5,0.19],[-1.4,0.17],[-2.2,0.11],[-2.18,0.1],[-2.17,0.1],[-1.93,0.12],[-1.48,0.07]];
const protistsBgZeros = [-3.5,-3.32,-3.2,-3.12,-3.05,-2.97,-2.9,-2.8,-2.75,-2.7,-2.65,-2.6,-2.56,-2.52,-2.48,-2.44,-2.4,-2.36,-2.32,-2.28,-2.24,-2.2,-2.16,-2.12,-2.08,-2.04,-2,-1.96,-1.92,-1.88,-1.84,-1.8,-1.76,-1.72,-1.68,-1.64,-1.6,-1.56,-1.52,-1.47,-1.4,-1.32,-1.25,-1.15,-1.05,-1,-0.9,-0.82,-0.75,-0.7,-0.53,-0.48,-0.43,0];

/* ---------- helpers ---------- */
const SVGNS = "http://www.w3.org/2000/svg";
function mk(tag, parent, attrs, txt) {
  const el = document.createElementNS(SVGNS, tag);
  for (const k in attrs) el.setAttribute(k, attrs[k]);
  if (txt !== undefined) el.textContent = txt;
  parent.appendChild(el);
  return el;
}

/* ---------- bar charts ---------- */
function drawBarChart(target, cfg) {
  const g = document.getElementById(target);
  const yPx = v => cfg.bottom - v * cfg.unit;
  const xCenter = i => cfg.firstCenter + i * cfg.step;

  const frame = mk("rect", g, {x: cfg.left, y: cfg.top, width: cfg.right - cfg.left, height: cfg.bottom - cfg.top, fill: "none", stroke: "#6e6e6e", "stroke-width": 1.1});
  
  

  barCategories.forEach((cat, i) => {
    [[cfg.cg, cfg.cgErr, cfg.cgLetters, -1, "#57b3e8", "cg"], [cfg.bg, cfg.bgErr, cfg.bgLetters, 0, "#ae172d", "bg"]].forEach(s => {
      const v = s[0][i], top = yPx(v), errTop = yPx(v + s[1][i]);
      const bx = xCenter(i) + s[3] * cfg.barW;
      const mid = bx + cfg.barW / 2;

      const errLine = mk("line", g, {x1: mid, x2: mid, y1: top, y2: errTop, stroke: "#111", "stroke-width": 2});
      
      
      const errCap = mk("line", g, {x1: mid - 6, x2: mid + 6, y1: errTop, y2: errTop, stroke: "#111", "stroke-width": 1.8});
      
      

      const bar = mk("rect", g, {x: bx, y: top, width: cfg.barW, height: cfg.bottom - top, fill: s[4]});
      
      

      const letter = mk("text", g, {x: mid + cfg.letterDx, y: errTop - cfg.lift[i], "text-anchor": "middle", "font-size": 15, "font-weight": "bold", fill: "#111"}, s[2][i]);
      
      
    });

    const tick = mk("line", g, {x1: xCenter(i), x2: xCenter(i), y1: cfg.bottom, y2: cfg.bottom + 6, stroke: "#222", "stroke-width": 1.5});
    
    

    const lx = xCenter(i) + cfg.labelDx[i], ly = cfg.labelY[i];
    const label = mk("text", g, {transform: "translate(" + lx + "," + ly + ") rotate(-42)", "text-anchor": "middle", "font-size": cfg.labelSize, "font-weight": "bold", fill: "#111"}, cat);
    
    
  });

  const yAxis = mk("line", g, {x1: cfg.left, x2: cfg.left, y1: cfg.top, y2: cfg.bottom, stroke: "#222", "stroke-width": 1.6});
  
  
  const xAxis = mk("line", g, {x1: cfg.left, x2: cfg.right, y1: cfg.bottom, y2: cfg.bottom, stroke: "#222", "stroke-width": 1.6});
  
  

  cfg.ticks.forEach(t => {
    const y = yPx(t);
    const tk = mk("line", g, {x1: cfg.left - cfg.tickLen, x2: cfg.left, y1: y, y2: y, stroke: "#222", "stroke-width": 1.5});
    
    
    const attrs = {x: cfg.left - cfg.tickLen - 3, y: y + cfg.tickFont * 0.36, "text-anchor": "end", "font-size": cfg.tickFont, "font-weight": "bold", fill: "#111"};
    if (cfg.tickStretch) { attrs.textLength = 9; attrs.lengthAdjust = "spacingAndGlyphs"; }
    const lb = mk("text", g, attrs, String(t));
    
    
  });
}

drawBarChart("chart-a", {
  left: 100, right: 368.3, top: 55, bottom: 261, unit: 55.1,
  firstCenter: 150, step: 84, barW: 33.6,
  cg: nicheCG, bg: nicheBG, cgErr: nicheCGErr, bgErr: nicheBGErr,
  cgLetters: nicheCGLetters, bgLetters: nicheBGLetters,
  ticks: nicheTicks, tickLen: 9, tickFont: 12, tickStretch: true,
  lift: [9, 8, 8], letterDx: 0,
  labelDx: [2, 9, 3], labelY: [306, 294, 300], labelSize: 20
});
drawBarChart("chart-b", {
  left: 482.7, right: 739.7, top: 56.7, bottom: 265, unit: 1.83,
  firstCenter: 531, step: 80.5, barW: 32,
  cg: dispersalCG, bg: dispersalBG, cgErr: dispersalCGErr, bgErr: dispersalBGErr,
  cgLetters: dispersalCGLetters, bgLetters: dispersalBGLetters,
  ticks: dispersalTicks, tickLen: 8.7, tickFont: 18, tickStretch: false,
  lift: [3, 10, 7.5], letterDx: 0,
  labelDx: [-20, -9, -15], labelY: [316, 305, 313], labelSize: 18.5
});

/* ---------- scatter panels ---------- */
const panelDefs = [
  {id: "panel-0", xTicks: xTicksBacteria, gen: bacteriaCgGeneralists, neu: bacteriaCgNeutrals, spe: bacteriaCgSpecialists, zer: bacteriaCgZeros, left: 49, right: 259, top: 380, bottom: 582, zeroY: 573.7, x0: 58.7, kx: 52.5},
  {id: "panel-1", xTicks: xTicksWide, gen: fungiCgGeneralists, neu: fungiCgNeutrals, spe: fungiCgSpecialists, zer: fungiCgZeros, left: 302.7, right: 512.7, top: 380, bottom: 582, zeroY: 573.7, x0: 312.3, kx: 42},
  {id: "panel-2", xTicks: xTicksWide, gen: protistsCgGeneralists, neu: protistsCgNeutrals, spe: protistsCgSpecialists, zer: protistsCgZeros, left: 556.7, right: 767, top: 380, bottom: 582, zeroY: 573.7, x0: 587, kx: 41.5},
  {id: "panel-3", xTicks: xTicksBacteria, gen: bacteriaBgGeneralists, neu: bacteriaBgNeutrals, spe: bacteriaBgSpecialists, zer: bacteriaBgZeros, left: 49, right: 259, top: 642, bottom: 845.3, zeroY: 836.3, x0: 58.7, kx: 53.5},
  {id: "panel-4", xTicks: xTicksWide, gen: fungiBgGeneralists, neu: fungiBgNeutrals, spe: fungiBgSpecialists, zer: fungiBgZeros, left: 302.7, right: 512.7, top: 642, bottom: 845.3, zeroY: 836.3, x0: 312.3, kx: 43.7},
  {id: "panel-5", xTicks: xTicksWide, gen: protistsBgGeneralists, neu: protistsBgNeutrals, spe: protistsBgSpecialists, zer: protistsBgZeros, left: 556.7, right: 767, top: 642, bottom: 845.3, zeroY: 836.3, x0: 587, kx: 41.8}
];

function drawPanel(p) {
  const g = document.getElementById(p.id);
  const xPx = v => p.x0 + (v + 3) * p.kx;
  const yPx = v => p.zeroY - v * 102.7;

  const step = p.xTicks[1] - p.xTicks[0];
  p.xTicks.forEach(t => {
    [t - step / 2, t + step / 2].forEach(m => {
      const px = xPx(m);
      if (px > p.left && px < p.right) {
        const minor = mk("line", g, {x1: px, x2: px, y1: p.top, y2: p.bottom, stroke: "#f2f2f2", "stroke-width": 0.6});
        
        
      }
    });
    const major = mk("line", g, {x1: xPx(t), x2: xPx(t), y1: p.top, y2: p.bottom, stroke: "#e8e8e8", "stroke-width": 1});
    
    
  });
  yTickValues.forEach(t => {
    [t - 0.25, t + 0.25].forEach(m => {
      const py = yPx(m);
      if (py > p.top && py < p.bottom) {
        const minor = mk("line", g, {x1: p.left, x2: p.right, y1: py, y2: py, stroke: "#f2f2f2", "stroke-width": 0.6});
        
        
      }
    });
    const major = mk("line", g, {x1: p.left, x2: p.right, y1: yPx(t), y2: yPx(t), stroke: "#e8e8e8", "stroke-width": 1});
    
    
  });

  p.gen.forEach(d => {
    const c = mk("circle", g, {cx: xPx(d[0]), cy: yPx(d[1]), r: 2.4, fill: "none", stroke: "#ee9d68", "stroke-width": 1});
    
    
  });
  p.neu.forEach(d => {
    const c = mk("circle", g, {cx: xPx(d[0]), cy: yPx(d[1]), r: 2.4, fill: "none", stroke: "#8a8a8a", "stroke-width": 1});
    
    
  });
  p.spe.forEach(d => {
    const c = mk("circle", g, {cx: xPx(d[0]), cy: yPx(d[1]), r: 2.4, fill: "none", stroke: "#5a9ad8", "stroke-width": 1});
    
    
  });
  p.zer.forEach((v, i) => {
    const next = p.zer[i + 1];
    if (next !== undefined && next - v <= 0.0401) {
      const link = mk("line", g, {x1: xPx(v), x2: xPx(next), y1: yPx(0), y2: yPx(0), stroke: "#4a8ccf", "stroke-width": 5.4});
      
      
    }
    const c = mk("circle", g, {cx: xPx(v), cy: yPx(0), r: 2.4, fill: "none", stroke: "#4f8fd2", "stroke-width": 1.1});
    
    
  });

  thresholdValues.forEach(v => {
    const l = mk("line", g, {x1: p.left, x2: p.right, y1: yPx(v), y2: yPx(v), stroke: "#333", "stroke-width": 1, "stroke-dasharray": "1.3 2.7"});
    
    
  });

  const border = mk("rect", g, {x: p.left, y: p.top, width: p.right - p.left, height: p.bottom - p.top, fill: "none", stroke: "#8c8c8c", "stroke-width": 1.2});
  
  

  p.xTicks.forEach(t => {
    const tk = mk("line", g, {x1: xPx(t), x2: xPx(t), y1: p.bottom, y2: p.bottom + 3, stroke: "#444", "stroke-width": 0.9});
    
    
    const lb = mk("text", g, {x: xPx(t), y: p.bottom + 11.5, "text-anchor": "middle", "font-size": 11.5, fill: "#333"}, t < 0 ? "\u2212" + Math.abs(t) : String(t));
    
    
  });
  yTickValues.forEach(t => {
    const tk = mk("line", g, {x1: p.left - 3, x2: p.left, y1: yPx(t), y2: yPx(t), stroke: "#444", "stroke-width": 0.9});
    
    
    const lb = mk("text", g, {x: p.left - 4, y: yPx(t) + 4, "text-anchor": "end", "font-size": 11.5, fill: "#333"}, t.toFixed(1));
    
    
  });
}
panelDefs.forEach(drawPanel);
</script>
</body>
</html>
